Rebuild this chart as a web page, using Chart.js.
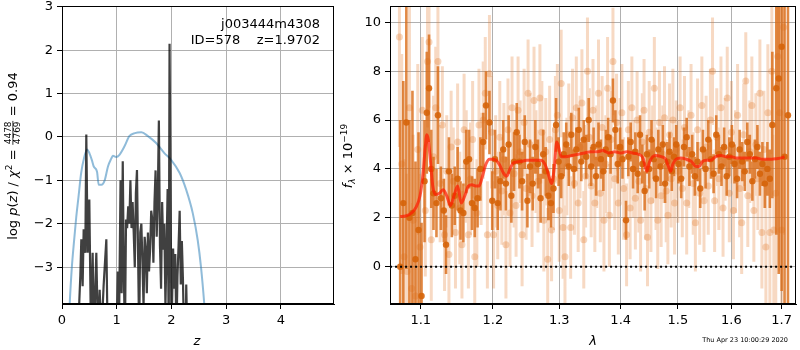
<!DOCTYPE html>
<html>
<head>
<meta charset="utf-8">
<script src="https://cdn.jsdelivr.net/npm/chart.js@4.4.1/dist/chart.umd.min.js"></script>
<style>
  body { margin: 0; background: #fff; }
  #wrap { position: relative; width: 800px; height: 350px; }
  canvas { position: absolute; top: 0; }
</style>
</head>
<body>
<div id="wrap">
  <canvas id="pz" width="340" height="350" style="left:0"></canvas>
  <canvas id="spec" width="460" height="350" style="left:340px"></canvas>
</div>
<script>
////////////////// left panel: log p(z) //////////////////
const priorZ = [0.10,0.14,0.18,0.22,0.26,0.30,0.35,0.40,0.46,0.50,
  0.55,0.58,0.64,0.67,0.72,0.78,0.84,0.90,0.93,0.99,
  1.05,1.14,1.23,1.33,1.45,1.57,1.72,1.87,1.99,2.15,
  2.27,2.39,2.48,2.54,2.60,2.64];
const priorLogP = [-5,-3.86,-3.0,-2.4,-1.85,-1.4,-0.83,-0.5,-0.29,-0.37,
  -0.55,-0.68,-0.8,-1.1,-1.1,-1.0,-0.68,-0.5,-0.43,-0.46,
  -0.41,-0.22,0.02,0.09,0.11,0.02,-0.14,-0.37,-0.52,-0.83,
  -1.22,-1.76,-2.38,-3.0,-3.86,-4.6];

const pzZ = [0.29,0.335,0.353,0.377,0.396,0.426,0.444,0.469,0.499,0.53,
  0.56,0.584,0.627,0.657,0.688,0.72,0.76,0.81,0.834,1.0,
  1.02,1.04,1.07,1.09,1.11,1.13,1.15,1.17,1.19,1.21,
  1.23,1.25,1.27,1.29,1.31,1.33,1.35,1.37,1.39,1.41,
  1.43,1.45,1.47,1.49,1.51,1.53,1.55,1.57,1.59,1.61,
  1.63,1.65,1.67,1.69,1.71,1.73,1.75,1.77,1.79,1.81,
  1.83,1.85,1.87,1.89,1.91,1.93,1.95,1.965,1.98,2.00,
  2.03,2.05,2.07,2.09,2.11,2.13,2.15,2.17,2.19,2.21,
  2.23,2.26,2.27,2.29];
const pzLogP = [-4.6,-3.2,-2.36,-3.44,-2.13,-2.67,0.06,-2.67,-1.44,-4.6,
  -2.67,-4.6,-2.67,-4.6,-3.52,-4.6,-3.44,-2.36,-4.6,-4.6,
  -3.1,-4.6,-1.0,-3.6,-0.56,-3.2,-4.6,-1.9,-2.1,-1.6,
  -2.0,-1.0,-2.1,-1.5,-2.2,-3.0,-1.3,-0.76,-2.7,-4.6,
  -2.2,-2.0,-2.9,-3.9,-2.3,-2.6,-3.6,-2.2,-3.1,-2.6,
  -1.7,-1.9,-2.9,-1.5,-0.77,-2.3,-1.4,0.38,-2.5,-3.5,
  -1.5,-2.6,-2.0,-3.9,-2.6,-1.2,-4.6,2.15,-0.5,-4.6,
  -2.57,-3.5,-2.7,-4.6,-3.2,-2.5,-1.7,-3.4,-2.4,-3.3,
  -4.6,-4.6,-3.4,-4.6];

const leftXTicks = [0, 1, 2, 3, 4];
const leftYTicks = [-3, -2, -1, 0, 1, 2, 3];

////////////////// right panel: spectrum //////////////////
const darkWave = [1.073,1.077,1.081,1.085,1.089,1.093,1.097,1.101,1.105,1.108,
  1.111,1.114,1.117,1.121,1.123,1.127,1.131,1.134,1.138,1.142,
  1.146,1.150,1.154,1.158,1.162,1.166,1.170,1.174,1.178,1.182,
  1.186,1.190,1.195,1.199,1.203,1.207,1.211,1.215,1.219,1.223,
  1.227,1.231,1.235,1.239,1.243,1.247,1.251,1.255,1.259,1.263,
  1.267,1.271,1.275,1.279,1.283,1.287,1.291,1.295,1.299,1.303,
  1.307,1.311,1.315,1.319,1.323,1.327,1.331,1.335,1.339,1.343,
  1.347,1.351,1.355,1.359,1.363,1.367,1.371,1.375,1.379,1.383,
  1.387,1.391,1.395,1.399,1.403,1.409,1.413,1.417,1.421,1.425,
  1.429,1.433,1.437,1.441,1.445,1.449,1.453,1.457,1.461,1.465,
  1.469,1.473,1.477,1.481,1.485,1.489,1.493,1.497,1.501,1.506,
  1.511,1.516,1.521,1.526,1.531,1.536,1.541,1.546,1.551,1.556,
  1.561,1.566,1.571,1.576,1.581,1.586,1.591,1.596,1.601,1.606,
  1.611,1.616,1.621,1.626,1.631,1.636,1.641,1.646,1.651,1.656,
  1.661,1.666,1.671,1.676,1.681,1.689,1.694,1.700,1.706,1.713];
const darkFlux = [0.0,2.6,5.9,2.0,2.2,0.3,1.5,-1.2,3.5,6.3,
  7.3,4.0,3.0,2.6,6.2,2.8,2.3,0.9,3.9,2.5,
  2.9,3.6,2.3,2.2,4.3,4.4,2.6,2.4,2.8,4.0,
  5.1,6.6,5.9,2.7,4.4,2.6,3.5,4.8,3.4,5.0,
  2.9,4.3,5.5,4.3,3.5,5.1,2.7,4.1,3.4,4.9,
  4.2,2.8,4.6,3.9,2.9,2.6,3.2,5.8,4.3,3.7,
  4.6,5.0,4.1,5.4,4.0,4.8,5.6,4.3,5.2,4.5,
  6.0,4.1,4.9,3.7,5.0,4.4,3.9,4.8,5.3,4.6,
  6.8,5.6,4.2,4.9,4.4,1.9,4.5,5.1,4.0,4.7,
  3.8,5.4,4.2,3.1,4.6,4.0,5.2,4.4,3.6,4.8,
  4.1,5.0,3.4,4.3,4.7,3.9,4.5,5.0,4.2,3.6,
  4.9,5.3,4.1,4.6,3.7,4.3,3.2,4.8,4.0,5.2,
  4.4,3.8,5.4,4.6,4.1,4.9,3.7,4.5,5.0,4.2,
  3.6,4.8,4.3,3.9,5.1,4.6,3.5,4.4,4.9,3.8,
  4.2,3.4,4.0,3.6,5.8,7.3,7.7,9.0,4.5,6.2];
const darkErr = [6,5,6,4,5,4,4,3,2.5,2.5,
  2.2,1.6,1.5,1.4,2.0,1.3,1.3,1.2,1.4,1.3,
  1.2,1.3,1.2,1.2,1.3,1.2,1.1,1.2,1.2,1.3,
  1.2,1.4,1.3,1.2,1.2,1.1,1.2,1.2,1.1,1.2,
  1.1,1.2,1.2,1.1,1.2,1.1,1.1,1.1,1.1,1.1,
  1.0,1.0,1.0,1.0,1.0,1.0,1.0,1.1,1.0,0.9,
  0.9,0.9,0.8,0.9,0.8,0.9,0.9,0.8,0.8,0.9,
  0.9,0.8,0.8,0.8,0.9,0.8,0.8,0.8,0.8,0.8,
  0.9,0.8,0.8,0.8,0.8,0.8,0.8,0.8,0.8,0.8,
  0.8,0.8,0.8,0.8,0.8,0.8,0.8,0.8,0.8,0.8,
  0.8,0.8,0.8,0.8,0.8,0.8,0.8,0.8,0.8,0.8,
  0.8,0.8,0.8,0.8,0.8,0.8,0.8,0.8,0.8,0.8,
  0.8,0.8,0.8,0.8,0.8,0.8,0.8,0.8,0.8,0.8,
  0.8,0.8,0.8,0.8,0.8,0.8,0.8,0.8,0.9,0.9,
  0.9,1.0,1.1,1.2,3,6,8,10,12,12];

const lightWave = [1.072,1.075,1.078,1.082,1.085,1.088,1.090,1.093,1.096,1.099,
  1.102,1.106,1.109,1.111,1.114,1.117,1.120,1.123,1.126,1.129,
  1.132,1.135,1.138,1.141,1.144,1.147,1.150,1.153,1.156,1.159,
  1.162,1.165,1.168,1.171,1.174,1.177,1.180,1.183,1.186,1.189,
  1.192,1.195,1.198,1.201,1.204,1.207,1.210,1.213,1.216,1.219,
  1.222,1.225,1.228,1.231,1.234,1.237,1.240,1.243,1.246,1.249,
  1.252,1.255,1.258,1.261,1.264,1.267,1.270,1.273,1.276,1.279,
  1.282,1.285,1.288,1.291,1.294,1.297,1.300,1.303,1.306,1.309,
  1.312,1.315,1.318,1.321,1.324,1.327,1.330,1.333,1.336,1.339,
  1.342,1.345,1.348,1.351,1.354,1.357,1.360,1.363,1.366,1.369,
  1.372,1.375,1.378,1.381,1.384,1.387,1.390,1.393,1.396,1.399,
  1.402,1.405,1.410,1.413,1.416,1.419,1.422,1.425,1.428,1.431,
  1.434,1.437,1.440,1.443,1.446,1.449,1.452,1.455,1.458,1.461,
  1.464,1.467,1.470,1.473,1.476,1.479,1.482,1.485,1.488,1.491,
  1.494,1.497,1.500,1.504,1.508,1.512,1.516,1.520,1.524,1.528,
  1.532,1.536,1.540,1.544,1.548,1.552,1.556,1.560,1.564,1.568,
  1.572,1.576,1.580,1.584,1.588,1.592,1.596,1.600,1.604,1.608,
  1.612,1.616,1.620,1.624,1.628,1.632,1.636,1.640,1.644,1.648,
  1.652,1.656,1.660,1.664,1.668,1.672,1.676,1.680,1.684,1.688,
  1.692,1.696,1.700,1.704];
const lightFlux = [9.4,4.2,0.4,-0.2,6.5,-0.9,1.9,-1.2,4.8,0.8,
  6.4,2.3,8.4,9.2,1.1,4.5,6.5,8.4,3.4,5.8,
  1.3,3.9,0.5,4.9,3.5,1.4,5.1,2.4,0.9,5.6,
  4.1,1.3,3.6,5.2,0.4,2.2,5.8,4.0,6.0,7.1,
  1.3,7.9,5.5,1.3,3.9,2.5,5.3,3.1,4.4,0.9,
  5.6,2.2,6.5,3.8,2.5,6.4,4.7,1.3,5.9,3.2,
  7.1,5.0,2.9,6.8,4.3,3.5,6.9,5.5,1.9,4.7,
  0.3,5.2,1.5,3.6,5.6,6.2,2.3,7.5,1.6,0.4,
  4.1,5.4,1.6,6.1,3.4,6.5,2.6,4.9,6.7,1.1,
  3.7,8.0,5.3,3.3,6.4,2.6,4.5,7.1,3.0,5.7,
  1.9,4.2,7.3,2.1,5.2,8.4,3.6,5.9,2.6,4.8,
  6.3,3.2,1.3,5.6,2.4,6.5,4.0,2.8,6.0,3.5,
  1.9,5.1,6.4,3.2,1.2,5.5,2.7,4.6,7.3,3.6,
  1.9,5.9,2.9,4.6,6.1,3.1,2.1,5.4,3.6,6.0,
  2.6,4.8,3.9,6.5,3.2,5.7,2.6,4.4,6.2,3.4,
  1.8,5.6,3.0,6.6,2.7,4.9,3.3,6.0,8.0,2.7,
  5.3,3.6,6.5,2.4,4.8,6.9,3.0,5.5,2.3,4.3,
  6.2,3.2,1.8,5.4,7.6,2.9,4.7,6.6,2.3,5.0,
  3.6,7.1,1.4,4.8,0.8,6.3,1.4,8.0,1.5,3.0,
  8.6,6.3,1.5,9.8];
const lightErr = [4.5,4.5,4,4,4.5,3.5,3.5,3.5,3.5,3,
  3,2.7,2.7,2.7,2.5,2.5,2.5,2.5,2.4,2.4,
  2.3,2.3,2.4,2.3,2.2,2.3,2.4,2.3,2.2,2.3,
  2.3,2.2,2.3,2.4,2.3,2.2,2.3,2.3,2.4,2.3,
  2.2,2.4,2.3,2.2,2.3,2.2,2.3,2.2,2.3,2.2,
  2.1,2.2,2.1,2.2,2.1,2.2,2.1,2.1,2.2,2.1,
  2.2,2.1,2.1,2.2,2.1,2.1,2.2,2.1,2.1,2.2,
  2.1,2.2,2.1,2.1,2.2,2.1,2.1,2.2,2.1,2.1,
  2.0,2.1,2.1,2.0,2.1,2.1,2.0,2.1,2.2,2.0,
  2.1,2.2,2.0,2.1,2.1,2.0,2.1,2.2,2.0,2.1,
  2.1,2.0,2.1,2.1,2.0,2.2,2.1,2.0,2.1,2.1,
  2.0,2.1,2.1,2.0,2.1,2.1,2.0,2.1,2.0,2.1,
  2.1,2.0,2.1,2.1,2.0,2.1,2.1,2.0,2.1,2.1,
  2.0,2.1,2.1,2.0,2.1,2.1,2.0,2.1,2.0,2.1,
  2.1,2.0,2.1,2.1,2.0,2.1,2.1,2.0,2.1,2.1,
  2.0,2.1,2.1,2.0,2.1,2.1,2.0,2.1,2.2,2.1,
  2.0,2.1,2.1,2.0,2.1,2.1,2.0,2.1,2.0,2.1,
  2.1,2.0,2.1,2.1,2.0,2.1,2.1,2.0,2.1,2.1,
  2.1,2.2,2.3,2.4,2.6,2.8,3.0,3.4,3.9,4.5,
  5.5,6.5,7.5,8.5];

const modelWave = [1.073,1.080,1.088,1.094,1.099,1.103,1.106,1.108,1.110,1.113,
  1.116,1.120,1.125,1.130,1.135,1.140,1.145,1.150,1.155,1.160,
  1.165,1.170,1.175,1.180,1.185,1.190,1.195,1.200,1.205,1.210,
  1.215,1.220,1.225,1.230,1.240,1.250,1.260,1.270,1.275,1.280,
  1.285,1.288,1.292,1.296,1.299,1.303,1.310,1.320,1.330,1.340,
  1.350,1.360,1.370,1.380,1.390,1.400,1.410,1.420,1.430,1.438,
  1.442,1.445,1.449,1.455,1.460,1.470,1.478,1.483,1.487,1.491,
  1.497,1.505,1.515,1.525,1.533,1.539,1.545,1.552,1.560,1.570,
  1.580,1.590,1.600,1.610,1.620,1.630,1.640,1.650,1.660,1.670,
  1.680,1.690,1.700,1.706];
const modelFlux = [2.05,2.07,2.2,2.45,2.9,3.8,4.9,5.4,5.2,4.3,
  3.3,2.95,3.0,3.15,2.9,2.5,2.9,3.3,2.6,2.9,
  3.3,3.35,3.3,3.3,3.7,4.2,4.4,4.4,4.35,4.15,
  3.85,3.7,4.0,4.25,4.3,4.35,4.35,4.35,4.3,4.05,
  3.6,3.4,4.0,5.1,4.9,4.5,4.5,4.55,4.6,4.65,
  4.7,4.7,4.75,4.65,4.7,4.65,4.7,4.65,4.6,4.45,
  4.1,3.9,4.25,4.5,4.55,4.5,4.4,4.1,3.9,4.2,
  4.4,4.45,4.4,4.3,4.1,4.1,4.3,4.35,4.35,4.5,
  4.55,4.5,4.5,4.45,4.45,4.45,4.45,4.45,4.4,4.4,
  4.4,4.42,4.45,4.5];

const zeroLineWave = [1.06, 1.73];
const rightXTicks = [1.1, 1.2, 1.3, 1.4, 1.5, 1.6, 1.7];
const rightYTicks = [0, 2, 4, 6, 8, 10];

///////////////////////////////////////////////////////
const FONT = '"DejaVu Sans", sans-serif';
Chart.defaults.font.family = FONT;
Chart.defaults.font.size = 13;
Chart.defaults.color = '#000';

const gridCol = '#b0b0b0';
const minus = v => String(v).replace('-', '\u2212');

function pts(xs, ys) {
  return xs.map((x, i) => ({ x: x, y: ys[i] }));
}
// error bars as broken line segments (null breaks the line)
function errSegs(xs, ys, es) {
  let out = [];
  xs.forEach((x, i) => {
    out.push({ x: x, y: ys[i] - es[i] });
    out.push({ x: x, y: ys[i] + es[i] });
    out.push({ x: x, y: null });
  });
  return out;
}

function axis(extra, tickList, fmt, fitFn) {
  return Object.assign({
    afterBuildTicks: s => { s.ticks = tickList.map(v => ({ value: v })); },
    ticks: { color: '#000', padding: 4, font: { size: 13 }, callback: fmt, maxRotation: 0, autoSkip: false },
    grid: { color: gridCol, lineWidth: 1, tickColor: '#000', tickLength: 5 },
    border: { color: '#000', width: 1 },
    afterFit: fitFn
  }, extra);
}

// draws a list of text pieces rotated by -90deg, centred on (cx, cy) with baseline at cx
function drawRotated(ctx, parts, cx, cy) {
  const fontOf = p => (p.it ? 'italic ' : '') + (p.size || 13) + 'px ' + FONT;
  let widths = parts.map(p => {
    if (p.frac) {
      ctx.font = (p.size) + 'px ' + FONT;
      return Math.max(ctx.measureText(p.frac[0]).width, ctx.measureText(p.frac[1]).width) + 2;
    }
    ctx.font = fontOf(p);
    return ctx.measureText(p.t).width;
  });
  let total = widths.reduce((a, b) => a + b, 0);
  ctx.save();
  ctx.translate(cx, cy);
  ctx.rotate(-Math.PI / 2);
  ctx.fillStyle = '#000';
  ctx.textBaseline = 'alphabetic';
  ctx.textAlign = 'left';
  let x = -total / 2;
  parts.forEach((p, i) => {
    if (p.frac) {
      ctx.font = p.size + 'px ' + FONT;
      ctx.textAlign = 'center';
      ctx.fillText(p.frac[0], x + widths[i] / 2, -6);
      ctx.fillText(p.frac[1], x + widths[i] / 2, 3);
      ctx.fillRect(x + 0.5, -4.5, widths[i] - 1, 0.8);
      ctx.textAlign = 'left';
    } else {
      ctx.font = fontOf(p);
      ctx.fillText(p.t, x, p.dy || 0);
    }
    x += widths[i];
  });
  ctx.restore();
}

const frame = {
  id: 'frame',
  afterDraw(chart) {
    const ctx = chart.ctx, a = chart.chartArea;
    ctx.save();
    ctx.strokeStyle = '#000';
    ctx.lineWidth = 1;
    ctx.strokeRect(Math.round(a.left) + 0.5, Math.round(a.top) + 0.5,
      Math.round(a.right - a.left) - 1, Math.round(a.bottom - a.top) - 1);
    ctx.restore();
  }
};

const pzText = {
  id: 'pzText',
  afterDraw(chart) {
    const ctx = chart.ctx;
    ctx.save();
    ctx.fillStyle = '#000';
    ctx.font = '13px ' + FONT;
    ctx.textAlign = 'right';
    ctx.fillText('j003444m4308', 320, 28);
    ctx.fillText('ID=578    z=1.9702', 320, 44);
    ctx.textAlign = 'center';
    ctx.font = 'italic 13px ' + FONT;
    ctx.fillText('z', 197, 345);
    ctx.restore();
    drawRotated(ctx, [
      { t: 'log ' }, { t: 'p', it: true }, { t: '(' }, { t: 'z', it: true },
      { t: ') / ' }, { t: '\u03c7', it: true }, { t: '2', size: 9, dy: -5 }, { t: ' = ' },
      { frac: ['4478', '4769'], size: 9 }, { t: ' = 0.94' }
    ], 17, 156);
  }
};

const specText = {
  id: 'specText',
  afterDraw(chart) {
    const ctx = chart.ctx;
    ctx.save();
    ctx.fillStyle = '#000';
    ctx.textAlign = 'center';
    ctx.font = 'italic 13px ' + FONT;
    ctx.fillText('\u03bb', 253, 345);
    ctx.textAlign = 'right';
    ctx.font = '6.5px ' + FONT;
    ctx.fillText('Thu Apr 23 10:00:29 2020', 448, 342);
    ctx.restore();
    drawRotated(ctx, [
      { t: 'f', it: true }, { t: '\u03bb', it: true, size: 9, dy: 3 }, { t: ' \u00d7 10' },
      { t: '\u221219', size: 9, dy: -5 }
    ], 12, 156);
  }
};

///////////////////////// left chart
new Chart(document.getElementById('pz'), {
  type: 'line',
  plugins: [frame, pzText],
  data: {
    datasets: [
      { data: pts(pzZ, pzLogP), borderColor: 'rgba(0,0,0,0.75)', borderWidth: 2.2, pointRadius: 0, tension: 0, clip: 0, order: 1 },
      { data: pts(priorZ, priorLogP), borderColor: 'rgba(31,119,180,0.5)', borderWidth: 2, pointRadius: 0, cubicInterpolationMode: 'monotone', clip: 0, order: 2 }
    ]
  },
  options: {
    animation: false, responsive: false, devicePixelRatio: 1,
    layout: { padding: { top: 6, right: 6, left: 0, bottom: 0 } },
    plugins: { legend: { display: false }, tooltip: { enabled: false } },
    scales: {
      x: axis({ type: 'linear', min: 0, max: 4.97 }, leftXTicks, v => minus(v),
        s => { s.height = 46; s.paddingLeft = 0; s.paddingRight = 0; }),
      y: axis({ type: 'linear', min: -3.85, max: 3.02 }, leftYTicks, v => minus(v),
        s => { s.width = 62; s.paddingTop = 0; s.paddingBottom = 0; })
    }
  }
});

///////////////////////// right chart
new Chart(document.getElementById('spec'), {
  type: 'line',
  plugins: [frame, specText],
  data: {
    datasets: [
      { data: pts(zeroLineWave, [0, 0]), borderColor: '#000', borderWidth: 2, borderDash: [2, 3], pointRadius: 0, clip: 0, order: 0 },
      { data: pts(modelWave, modelFlux), borderColor: 'rgba(255,25,0,0.7)', borderWidth: 3, pointRadius: 0, cubicInterpolationMode: 'monotone', clip: 0, order: 1 },
      { data: pts(darkWave, darkFlux), showLine: false, pointRadius: 3.2, pointBorderWidth: 0, pointBackgroundColor: 'rgba(214,100,10,0.9)', clip: 0, order: 2 },
      { data: errSegs(darkWave, darkFlux, darkErr), borderColor: 'rgba(218,108,22,0.8)', borderWidth: 2.6, pointRadius: 0, spanGaps: false, borderCapStyle: 'butt', clip: 0, order: 3 },
      { data: pts(lightWave, lightFlux), showLine: false, pointRadius: 3.5, pointBorderWidth: 0, pointBackgroundColor: 'rgba(225,120,40,0.3)', clip: 0, order: 4 },
      { data: errSegs(lightWave, lightFlux, lightErr), borderColor: 'rgba(225,120,40,0.28)', borderWidth: 3, pointRadius: 0, spanGaps: false, borderCapStyle: 'butt', clip: 0, order: 5 }
    ]
  },
  options: {
    animation: false, responsive: false, devicePixelRatio: 1,
    layout: { padding: { top: 6, right: 1, left: 0, bottom: 0 } },
    plugins: { legend: { display: false }, tooltip: { enabled: false } },
    scales: {
      x: axis({ type: 'logarithmic', min: 1.0599, max: 1.7297 }, rightXTicks, v => v.toFixed(1),
        s => { s.height = 46; s.paddingLeft = 0; s.paddingRight = 0; }),
      y: axis({ type: 'linear', min: -1.53, max: 10.67 }, rightYTicks, v => minus(v),
        s => { s.width = 50; s.paddingTop = 0; s.paddingBottom = 0; })
    }
  }
});
</script>
</body>
</html>
